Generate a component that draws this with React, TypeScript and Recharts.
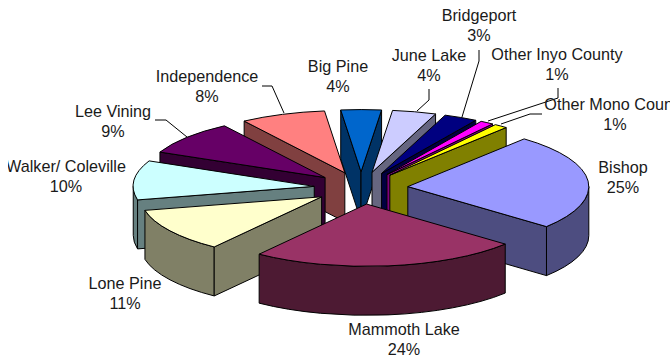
import React from 'react';
import { PieChart, Pie } from 'recharts';

const towns = ['Bishop', 'Mammoth Lake', 'Lone Pine', 'Walker/ Coleville', 'Lee Vining', 'Independence', 'Big Pine', 'June Lake', 'Bridgeport', 'Other Inyo County', 'Other Mono County'];
const shares = [25, 24, 11.4, 10.2, 8.9, 7.6, 3.6, 3.9, 3, 1.2, 1.2];
const topColors = ['#9999ff', '#993366', '#ffffcc', '#ccffff', '#660066', '#ff8080', '#0066cc', '#ccccff', '#000080', '#ff00ff', '#ffff00'];
const wallColors = ['#4d4d80', '#4d1a33', '#808066', '#668080', '#330033', '#804040', '#003366', '#666680', '#000040', '#800080', '#808000'];

// back slices first, the front ones have to paint over them
const paintOrder = ['Big Pine', 'June Lake', 'Independence', 'Bridgeport', 'Lee Vining', 'Other Inyo County', 'Walker/ Coleville', 'Other Mono County', 'Lone Pine', 'Bishop', 'Mammoth Lake'];

const tableData = towns.map((name, i) => ({ name, value: shares[i], top: topColors[i], wall: wallColors[i] }));

// the svg starts 8px in from the page edge, so picture x = svg x + 8
const WIDTH = 662;
const HEIGHT = 358;
const TILT = 0.344;
const DEPTH = 49;
const EXPLODE = 47;
const RADIUS = 181;
const RAD = Math.PI / 180;

type Spot = { x: number; y: number; leader?: number[][] };

const labelSpots: Record<string, Spot> = {
  'Bishop': { x: 615, y: 173 },
  'Mammoth Lake': { x: 396, y: 335 },
  'Lone Pine': { x: 117, y: 289 },
  'Walker/ Coleville': { x: 58, y: 172 },
  'Lee Vining': { x: 105, y: 117, leader: [[147, 120], [158, 120], [179, 137]] },
  'Independence': { x: 199, y: 82, leader: [[254, 86], [264, 86], [276, 113]] },
  'Big Pine': { x: 330, y: 72 },
  'June Lake': { x: 421, y: 61, leader: [[421, 89], [421, 100], [409, 111]] },
  'Bridgeport': { x: 471, y: 21, leader: [[471, 50], [471, 61], [454, 117]] },
  'Other Inyo County': { x: 549, y: 60, leader: [[550, 88], [550, 98], [480, 121]] },
  'Other Mono County': { x: 607, y: 110, leader: [[534, 114], [522, 114], [493, 124]] },
};

const SliceShape = (props: any, only: string) => {
  const { cx, cy, startAngle, endAngle, payload } = props;
  if (payload.name !== only) return null;

  const mid = ((startAngle + endAngle) / 2) * RAD;
  const ox = cx + EXPLODE * Math.cos(mid);
  const oy = cy - EXPLODE * Math.sin(mid) * TILT;
  const px = (deg: number) => ox + RADIUS * Math.cos(deg * RAD);
  const py = (deg: number) => oy - RADIUS * Math.sin(deg * RAD) * TILT;

  const ax = px(startAngle);
  const ay = py(startAngle);
  const bx = px(endAngle);
  const by = py(endAngle);
  const rx = RADIUS;
  const ry = RADIUS * TILT;

  const line = { stroke: '#000', strokeWidth: 1, strokeLinejoin: 'round' as const };

  // only the front half of the rim (-180..0 deg) faces the viewer
  const rimFrom = Math.min(startAngle, 0);
  const rimTo = Math.max(endAngle, -180);
  const hasRim = rimFrom > rimTo;

  // a cut face shows only when it turns towards the viewer
  const startFaceShows = Math.cos(startAngle * RAD) < 0;
  const endFaceShows = Math.cos(endAngle * RAD) > 0;

  return (
    <g>
      {hasRim && (
        <path
          d={`M${px(rimFrom)},${py(rimFrom)} A${rx},${ry} 0 0 1 ${px(rimTo)},${py(rimTo)} L${px(rimTo)},${py(rimTo) + DEPTH} A${rx},${ry} 0 0 0 ${px(rimFrom)},${py(rimFrom) + DEPTH} Z`}
          fill={payload.wall}
          {...line}
        />
      )}
      {startFaceShows && (
        <path d={`M${ox},${oy} L${ax},${ay} L${ax},${ay + DEPTH} L${ox},${oy + DEPTH} Z`} fill={payload.wall} {...line} />
      )}
      {endFaceShows && (
        <path d={`M${ox},${oy} L${bx},${by} L${bx},${by + DEPTH} L${ox},${oy + DEPTH} Z`} fill={payload.wall} {...line} />
      )}
      <path d={`M${ox},${oy} L${ax},${ay} A${rx},${ry} 0 0 1 ${bx},${by} Z`} fill={payload.top} {...line} />
    </g>
  );
};

const renderLabel = (props: any) => {
  const name = props.payload?.name ?? props.name;
  const spot = labelSpots[name];
  const textStyle = { fontFamily: '"Liberation Sans", Arial, sans-serif', fontSize: 16.2, fill: '#1a1a1a' };
  return (
    <g key={name}>
      {spot.leader && (
        <polyline points={spot.leader.map(p => p.join(',')).join(' ')} fill="none" stroke="#000" strokeWidth={1} />
      )}
      <text x={spot.x} y={spot.y} textAnchor="middle" style={textStyle}>{name}</text>
      <text x={spot.x} y={spot.y + 20} textAnchor="middle" style={textStyle}>{`${Math.round(props.percent * 100)}%`}</text>
    </g>
  );
};

export default function App() {
  return (
    <div style={{ position: 'absolute', left: 8, top: 0, width: WIDTH, height: HEIGHT }}>
      <PieChart width={WIDTH} height={HEIGHT} margin={{ top: 0, right: 0, bottom: 0, left: 0 }}>
        {paintOrder.map((only, i) => (
          <Pie
            key={only}
            data={tableData}
            dataKey="value"
            nameKey="name"
            cx={353}
            cy={188}
            innerRadius={0}
            outerRadius={RADIUS}
            startAngle={50}
            endAngle={-310}
            isAnimationActive={false}
            stroke="none"
            shape={(props: any) => SliceShape(props, only)}
            label={i === paintOrder.length - 1 ? renderLabel : false}
            labelLine={false}
          />
        ))}
      </PieChart>
    </div>
  );
}
